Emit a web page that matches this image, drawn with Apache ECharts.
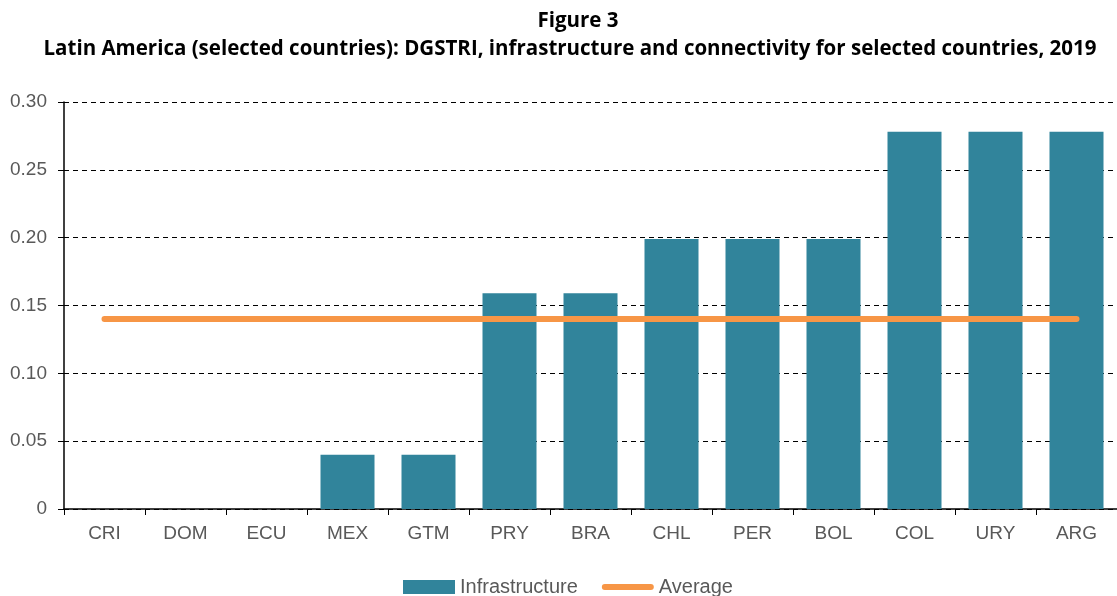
<!DOCTYPE html>
<html>
<head>
<meta charset="utf-8">
<script src="https://cdn.jsdelivr.net/npm/echarts@6/dist/echarts.min.js"></script>
<style>
  html, body { margin: 0; padding: 0; background: #fff; }
  #chart { width: 1117px; height: 596px; }
</style>
</head>
<body>
<div id="chart"></div>
<script>
  var countries = ['CRI', 'DOM', 'ECU', 'MEX', 'GTM', 'PRY', 'BRA', 'CHL', 'PER', 'BOL', 'COL', 'URY', 'ARG'];
  var infrastructure = [0, 0, 0, 0.04, 0.04, 0.159, 0.159, 0.199, 0.199, 0.199, 0.278, 0.278, 0.278];
  var average = [0.14, 0.14, 0.14, 0.14, 0.14, 0.14, 0.14, 0.14, 0.14, 0.14, 0.14, 0.14, 0.14];
  var yTicks = ['0', '0.05', '0.10', '0.15', '0.20', '0.25', '0.30'];

  var myChart = echarts.init(document.getElementById('chart'));
  var option = {
    animation: false,
    title: [{
      text: 'Figure 3',
      left: 573,
      textAlign: 'center',
      top: 6,
      textStyle: { fontFamily: 'Open Sans', fontWeight: 'bold', fontSize: 20.5, color: '#000' }
    }, {
      text: 'Latin America (selected countries): DGSTRI, infrastructure and connectivity for selected countries, 2019',
      left: 565,
      textAlign: 'center',
      top: 34,
      textStyle: { fontFamily: 'Open Sans', fontWeight: 'bold', fontSize: 20.5, color: '#000' }
    }],
    legend: {
      bottom: -6,
      left: 398,
      itemGap: 24,
      itemWidth: 52,
      itemHeight: 14,
      textStyle: { fontFamily: 'Liberation Sans', fontSize: 20, color: '#595959', padding: [0, 0, 0, 0] },
      data: [
        { name: 'Infrastructure', icon: 'rect', itemStyle: { borderWidth: 0 } },
        { name: 'Average', icon: 'path://M3,0 L49,0 A3,3 0 0 1 49,6 L3,6 A3,3 0 0 1 3,0 Z', itemStyle: { color: '#f79646', borderWidth: 0 } }
      ]
    },
    grid: { left: 64, right: 0, top: 102, bottom: 87, containLabel: false },
    xAxis: {
      type: 'category',
      data: countries,
      axisLine: { lineStyle: { color: '#000', width: 1.5 } },
      axisTick: { show: true, alignWithLabel: false, length: 6, lineStyle: { color: '#000' } },
      axisLabel: { fontFamily: 'Liberation Sans', fontSize: 19, color: '#595959', margin: 15 }
    },
    yAxis: {
      type: 'value',
      min: 0,
      max: 0.3,
      interval: 0.05,
      axisLine: { show: true, lineStyle: { color: '#000', width: 1.5 } },
      axisTick: { show: true, length: 6, lineStyle: { color: '#000' } },
      axisLabel: {
        fontFamily: 'Liberation Sans', fontSize: 19, color: '#595959', margin: 17,
        formatter: function (v) { return yTicks[Math.round(v / 0.05)]; }
      },
      splitLine: { lineStyle: { color: '#000', type: [5, 4], width: 1 } }
    },
    series: [{
      name: 'Infrastructure',
      type: 'bar',
      data: infrastructure,
      barWidth: 54,
      itemStyle: { color: '#31849b', borderWidth: 0 }
    }, {
      name: 'Average',
      type: 'line',
      data: average,
      symbol: 'none',
      itemStyle: { color: '#f79646' },
      lineStyle: { color: '#f79646', width: 6, cap: 'round' },
      z: 5
    }]
  };
  myChart.setOption(option);
</script>
</body>
</html>
